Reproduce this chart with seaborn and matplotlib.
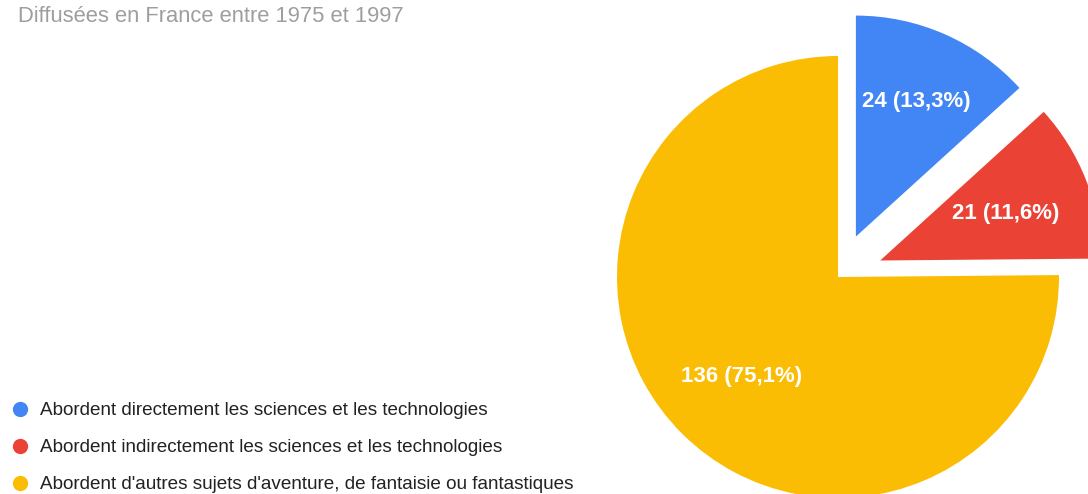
import matplotlib
matplotlib.use("Agg")
import numpy as np
import matplotlib.pyplot as plt
from matplotlib.lines import Line2D
import seaborn as sns

# données
categories = [
    "Abordent directement les sciences et les technologies",
    "Abordent indirectement les sciences et les technologies",
    "Abordent d'autres sujets d'aventure, de fantaisie ou fantastiques",
]
counts = [24, 21, 136]
colors = ["#4285F4", "#EA4335", "#FBBC04"]
explode = [0.2, 0.205, 0.0]
label_dist = [0.68, 0.61, 0.62]
subtitle = "Diffusées en France entre 1975 et 1997"

W, H = 1088, 494
RADIUS = 221


def main() -> None:
    sns.set_theme(style="white")
    plt.rcParams["font.family"] = ["Liberation Sans", "DejaVu Sans"]

    total = sum(counts)

    def fmt(p):
        n = int(round(p * total / 100))
        return f"{n} ({p:.1f}%)".replace(".", ",")

    fig = plt.figure(figsize=(W / 100, H / 100), dpi=100)
    ax = fig.add_axes([0, 0, 1, 1])

    # matplotlib décale en unités de données, pas en fraction du rayon
    wedges, _, autotexts = ax.pie(
        counts,
        colors=colors,
        explode=[e * RADIUS for e in explode],
        startangle=90,
        counterclock=False,
        center=(838, H - 277),
        radius=RADIUS,
        autopct=fmt,
        pctdistance=0.64,
        wedgeprops={"linewidth": 0},
        frame=True,
    )
    ax.set_xlim(0, W)
    ax.set_ylim(0, H)
    ax.set_aspect("equal")
    ax.axis("off")

    # étiquettes sur la bissectrice de chaque part
    for w, t, d in zip(wedges, autotexts, label_dist):
        th = np.deg2rad((w.theta1 + w.theta2) / 2)
        cx, cy = w.center
        t.set_position((cx + d * w.r * np.cos(th), cy + d * w.r * np.sin(th) - 2))
        t.set_color("white")
        t.set_fontweight("bold")
        t.set_fontsize(16)

    fig.text(18 / W, 1 - 22.5 / H, subtitle, color="#9e9e9e", fontsize=15.8,
             va="baseline", ha="left")

    handles = [
        Line2D([], [], marker="o", linestyle="", markersize=11,
               markerfacecolor=c, markeredgewidth=0)
        for c in colors
    ]
    leg = ax.legend(
        handles, categories,
        loc="upper left",
        bbox_to_anchor=(10.5 / W, 1 - 402 / H),
        bbox_transform=fig.transFigure,
        frameon=False,
        borderpad=0,
        borderaxespad=0,
        handlelength=1.0,
        handletextpad=0.56,
        labelspacing=1.05,
        prop={"size": 13.6},
    )
    for t in leg.get_texts():
        t.set_color("#222222")

    fig.savefig("out.png", dpi=100)


if __name__ == "__main__":
    main()
